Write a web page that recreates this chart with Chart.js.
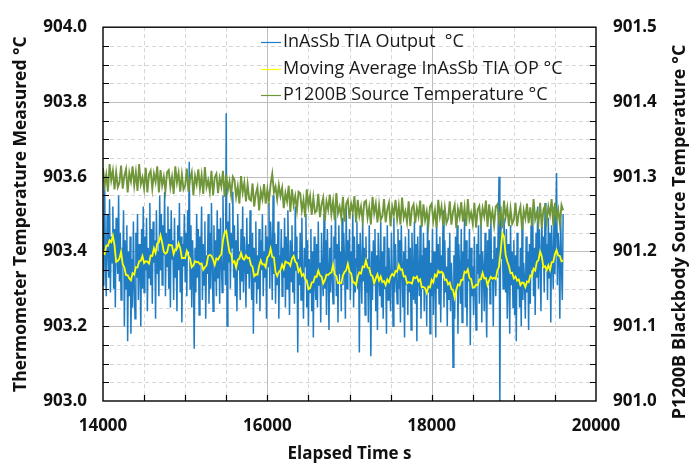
<!DOCTYPE html>
<html>
<head>
<meta charset="utf-8">
<title>InAsSb TIA Output vs P1200B Source Temperature</title>
<script src="https://cdn.jsdelivr.net/npm/chart.js@4.4.1/dist/chart.umd.min.js"></script>
<style>
  html, body { margin: 0; padding: 0; background: #fff; }
  canvas { display: block; }
</style>
</head>
<body>
<canvas id="tiaChart" width="689" height="463"></canvas>
<script>
// Sampling: start time and interval of each logged series (seconds)
const startTime = 14000;
const tiaStep = 10;
const avgStep = 20;
const sourceStep = 20;

// InAsSb TIA output, °C (left axis)
const tiaOutput = [
  903.31, 903.47, 903.58, 903.36, 903.28, 903.50, 903.41, 903.33, 903.54, 903.29,
  903.44, 903.37, 903.52, 903.30, 903.46, 903.25, 903.49, 903.40, 903.34, 903.55,
  903.32, 903.45, 903.27, 903.41, 903.36, 903.51, 903.20, 903.43, 903.30, 903.47,
  903.16, 903.40, 903.28, 903.44, 903.18, 903.38, 903.25, 903.48, 903.31, 903.22,
  903.45, 903.33, 903.50, 903.27, 903.42, 903.37, 903.20, 903.46, 903.30, 903.52,
  903.29, 903.44, 903.35, 903.49, 903.24, 903.41, 903.33, 903.53, 903.31, 903.46,
  903.26, 903.48, 903.37, 903.43, 903.22, 903.51, 903.34, 903.40, 903.28, 903.55,
  903.35, 903.50, 903.31, 903.47, 903.39, 903.56, 903.28, 903.45, 903.36, 903.52,
  903.30, 903.46, 903.25, 903.51, 903.38, 903.43, 903.27, 903.49, 903.33, 903.40,
  903.24, 903.47, 903.35, 903.53, 903.29, 903.44, 903.21, 903.42, 903.36, 903.50,
  903.32, 903.45, 903.28, 903.51, 903.40, 903.64, 903.30, 903.47, 903.25, 903.43,
  903.35, 903.14, 903.41, 903.29, 903.50, 903.33, 903.46, 903.23, 903.44, 903.37,
  903.52, 903.27, 903.42, 903.31, 903.48, 903.22, 903.39, 903.34, 903.50, 903.26,
  903.45, 903.30, 903.53, 903.36, 903.24, 903.47, 903.32, 903.43, 903.28, 903.51,
  903.33, 903.46, 903.26, 903.49, 903.38, 903.29, 903.55, 903.35, 903.44, 903.31,
  903.77, 903.20, 903.48, 903.37, 903.53, 903.30, 903.45, 903.41, 903.56, 903.33,
  903.47, 903.28, 903.43, 903.24, 903.50, 903.35, 903.40, 903.27, 903.46, 903.32,
  903.52, 903.29, 903.44, 903.38, 903.25, 903.49, 903.34, 903.42, 903.30, 903.51,
  903.36, 903.27, 903.45, 903.18, 903.41, 903.32, 903.48, 903.26, 903.39, 903.30,
  903.46, 903.24, 903.43, 903.35, 903.50, 903.28, 903.40, 903.33, 903.47, 903.22,
  903.44, 903.36, 903.53, 903.30, 903.48, 903.41, 903.27, 903.55, 903.34, 903.45,
  903.26, 903.42, 903.31, 903.48, 903.22, 903.39, 903.35, 903.46, 903.28, 903.41,
  903.33, 903.49, 903.25, 903.44, 903.30, 903.51, 903.37, 903.23, 903.43, 903.32,
  903.47, 903.29, 903.40, 903.26, 903.52, 903.35, 903.44, 903.13, 903.38, 903.31,
  903.45, 903.27, 903.49, 903.33, 903.22, 903.41, 903.36, 903.50, 903.25, 903.43,
  903.20, 903.38, 903.29, 903.46, 903.24, 903.40, 903.17, 903.44, 903.32, 903.27,
  903.42, 903.25, 903.48, 903.31, 903.37, 903.21, 903.45, 903.34, 903.28, 903.50,
  903.30, 903.43, 903.23, 903.46, 903.36, 903.19, 903.41, 903.29, 903.47, 903.33,
  903.26, 903.44, 903.38, 903.51, 903.28, 903.42, 903.21, 903.47, 903.34, 903.40,
  903.24, 903.49, 903.31, 903.45, 903.37, 903.22, 903.52, 903.30, 903.43, 903.35,
  903.46, 903.27, 903.40, 903.33, 903.50, 903.25, 903.44, 903.29, 903.38, 903.48,
  903.30, 903.42, 903.13, 903.45, 903.36, 903.26, 903.49, 903.32, 903.41, 903.23,
  903.44, 903.29, 903.38, 903.21, 903.47, 903.34, 903.12, 903.40, 903.27, 903.43,
  903.31, 903.46, 903.24, 903.39, 903.19, 903.45, 903.33, 903.28, 903.48, 903.25,
  903.40, 903.22, 903.44, 903.30, 903.36, 903.18, 903.47, 903.27, 903.41, 903.32,
  903.24, 903.45, 903.35, 903.20, 903.49, 903.29, 903.42, 903.33, 903.26, 903.46,
  903.30, 903.43, 903.21, 903.47, 903.36, 903.25, 903.40, 903.17, 903.44, 903.31,
  903.38, 903.23, 903.46, 903.29, 903.41, 903.19, 903.45, 903.34, 903.27, 903.48,
  903.26, 903.42, 903.16, 903.44, 903.33, 903.28, 903.47, 903.22, 903.39, 903.30,
  903.45, 903.24, 903.41, 903.35, 903.20, 903.50, 903.29, 903.43, 903.18, 903.37,
  903.28, 903.46, 903.23, 903.40, 903.33, 903.17, 903.48, 903.30, 903.42, 903.26,
  903.44, 903.21, 903.39, 903.34, 903.51, 903.25, 903.43, 903.29, 903.36, 903.20,
  903.41, 903.27, 903.45, 903.24, 903.37, 903.31, 903.09, 903.39, 903.22, 903.44,
  903.30, 903.47, 903.18, 903.42, 903.35, 903.26, 903.46, 903.21, 903.40, 903.33,
  903.49, 903.25, 903.43, 903.20, 903.38, 903.32, 903.46, 903.15, 903.41, 903.28,
  903.36, 903.23, 903.44, 903.30, 903.19, 903.42, 903.34, 903.47, 903.26, 903.39,
  903.48, 903.21, 903.40, 903.35, 903.24, 903.45, 903.29, 903.17, 903.43, 903.31,
  903.46, 903.26, 903.50, 903.32, 903.38, 903.20, 903.44, 903.36, 903.28, 903.41,
  903.33, 903.47, 903.60, 902.98, 903.52, 903.38, 903.45, 903.30, 903.49, 903.41,
  903.29, 903.46, 903.22, 903.42, 903.35, 903.18, 903.47, 903.31, 903.40, 903.25,
  903.43, 903.23, 903.39, 903.16, 903.45, 903.30, 903.36, 903.25, 903.41, 903.20,
  903.48, 903.27, 903.37, 903.32, 903.22, 903.44, 903.29, 903.40, 903.19, 903.42,
  903.26, 903.47, 903.35, 903.50, 903.28, 903.41, 903.23, 903.45, 903.33, 903.52,
  903.30, 903.46, 903.38, 903.24, 903.50, 903.36, 903.44, 903.29, 903.53, 903.35,
  903.42, 903.27, 903.49, 903.33, 903.45, 903.21, 903.47, 903.38, 903.30, 903.52,
  903.34, 903.48, 903.61, 903.31, 903.45, 903.40, 903.22, 903.50, 903.36, 903.27,
  903.50
];

// Moving average of the TIA output, °C (left axis)
const movingAvg = [
  903.396, 903.393, 903.416, 903.415, 903.430, 903.425, 903.442, 903.417, 903.372, 903.375,
  903.381, 903.399, 903.366, 903.357, 903.337, 903.337, 903.328, 903.323, 903.342, 903.338,
  903.358, 903.357, 903.374, 903.375, 903.388, 903.369, 903.374, 903.373, 903.368, 903.389,
  903.388, 903.409, 903.396, 903.421, 903.424, 903.443, 903.424, 903.399, 903.394, 903.398,
  903.418, 903.417, 903.416, 903.393, 903.406, 903.407, 903.422, 903.409, 903.382, 903.383,
  903.382, 903.401, 903.388, 903.381, 903.358, 903.363, 903.374, 903.371, 903.372, 903.366,
  903.368, 903.351, 903.358, 903.363, 903.388, 903.391, 903.388, 903.379, 903.364, 903.381,
  903.378, 903.387, 903.392, 903.429, 903.450, 903.455, 903.424, 903.397, 903.392, 903.370,
  903.374, 903.357, 903.378, 903.381, 903.396, 903.381, 903.378, 903.389, 903.382, 903.383,
  903.364, 903.359, 903.334, 903.339, 903.338, 903.361, 903.376, 903.365, 903.366, 903.358,
  903.384, 903.389, 903.408, 903.385, 903.384, 903.345, 903.334, 903.345, 903.350, 903.365,
  903.354, 903.373, 903.370, 903.369, 903.362, 903.381, 903.388, 903.373, 903.368, 903.346,
  903.354, 903.335, 903.340, 903.327, 903.322, 903.299, 903.302, 903.317, 903.318, 903.333,
  903.332, 903.349, 903.336, 903.333, 903.314, 903.323, 903.338, 903.337, 903.342, 903.344,
  903.364, 903.339, 903.334, 903.315, 903.316, 903.315, 903.336, 903.345, 903.350, 903.367,
  903.346, 903.341, 903.318, 903.317, 903.310, 903.333, 903.344, 903.341, 903.360, 903.358,
  903.376, 903.357, 903.356, 903.337, 903.334, 903.315, 903.328, 903.339, 903.322, 903.333,
  903.318, 903.321, 903.310, 903.325, 903.318, 903.333, 903.340, 903.335, 903.348, 903.346,
  903.364, 903.351, 903.352, 903.333, 903.334, 903.315, 903.318, 903.317, 903.314, 903.331,
  903.328, 903.333, 903.320, 903.325, 903.304, 903.305, 903.302, 903.289, 903.306, 903.304,
  903.324, 903.317, 903.338, 903.333, 903.348, 903.343, 903.346, 903.341, 903.324, 903.325,
  903.312, 903.317, 903.300, 903.297, 903.276, 903.297, 903.312, 903.309, 903.324, 903.324,
  903.346, 903.343, 903.352, 903.329, 903.326, 903.303, 903.304, 903.311, 903.310, 903.325,
  903.326, 903.343, 903.328, 903.329, 903.310, 903.323, 903.332, 903.327, 903.330, 903.326,
  903.350, 903.359, 903.400, 903.449, 903.440, 903.391, 903.374, 903.361, 903.342, 903.343,
  903.328, 903.333, 903.322, 903.325, 903.310, 903.317, 903.316, 903.305, 903.320, 903.318,
  903.336, 903.333, 903.354, 903.349, 903.372, 903.377, 903.400, 903.387, 903.358, 903.361,
  903.350, 903.363, 903.350, 903.371, 903.372, 903.393, 903.404, 903.389, 903.388, 903.374,
  903.376
];

// P1200B blackbody source temperature, °C (right axis)
const sourceTemp = [
  901.312, 901.289, 901.303, 901.280, 901.317, 901.295, 901.308, 901.283, 901.306, 901.286,
  901.292, 901.315, 901.284, 901.301, 901.310, 901.279, 901.305, 901.294, 901.314, 901.288,
  901.306, 901.281, 901.317, 901.290, 901.299, 901.284, 901.312, 901.279, 901.303, 901.308,
  901.284, 901.304, 901.293, 901.314, 901.279, 901.309, 901.288, 901.300, 901.281, 901.306,
  901.309, 901.286, 901.300, 901.277, 901.314, 901.292, 901.305, 901.280, 901.303, 901.283,
  901.288, 901.311, 901.280, 901.297, 901.306, 901.275, 901.301, 901.290, 901.310, 901.284,
  901.302, 901.277, 901.313, 901.286, 901.295, 901.280, 901.308, 901.275, 901.299, 901.304,
  901.278, 901.298, 901.287, 901.308, 901.273, 901.303, 901.282, 901.294, 901.275, 901.300,
  901.296, 901.273, 901.287, 901.264, 901.301, 901.279, 901.292, 901.267, 901.290, 901.270,
  901.268, 901.291, 901.260, 901.277, 901.286, 901.255, 901.281, 901.270, 901.290, 901.264,
  901.283, 901.268, 901.290, 901.304, 901.279, 901.287, 901.270, 901.289, 901.274, 901.285,
  901.258, 901.278, 901.267, 901.288, 901.253, 901.283, 901.262, 901.274, 901.255, 901.280,
  901.278, 901.255, 901.269, 901.246, 901.283, 901.261, 901.274, 901.249, 901.272, 901.252,
  901.254, 901.277, 901.246, 901.263, 901.272, 901.241, 901.267, 901.256, 901.276, 901.250,
  901.267, 901.242, 901.278, 901.251, 901.260, 901.245, 901.273, 901.240, 901.264, 901.269,
  901.244, 901.264, 901.253, 901.274, 901.239, 901.269, 901.248, 901.260, 901.241, 901.266,
  901.268, 901.245, 901.259, 901.236, 901.273, 901.251, 901.264, 901.239, 901.262, 901.242,
  901.247, 901.270, 901.239, 901.256, 901.265, 901.234, 901.260, 901.249, 901.269, 901.243,
  901.261, 901.236, 901.272, 901.245, 901.254, 901.239, 901.267, 901.234, 901.258, 901.263,
  901.238, 901.258, 901.247, 901.268, 901.233, 901.263, 901.242, 901.254, 901.235, 901.260,
  901.264, 901.241, 901.255, 901.232, 901.269, 901.247, 901.260, 901.235, 901.258, 901.238,
  901.244, 901.267, 901.236, 901.253, 901.262, 901.231, 901.257, 901.246, 901.266, 901.240,
  901.259, 901.234, 901.270, 901.243, 901.252, 901.237, 901.265, 901.232, 901.256, 901.261,
  901.238, 901.258, 901.247, 901.268, 901.233, 901.263, 901.242, 901.254, 901.235, 901.260,
  901.263, 901.240, 901.254, 901.231, 901.268, 901.246, 901.259, 901.234, 901.257, 901.237,
  901.242, 901.265, 901.234, 901.251, 901.260, 901.229, 901.255, 901.244, 901.264, 901.238,
  901.259, 901.234, 901.270, 901.243, 901.252, 901.237, 901.265, 901.232, 901.256, 901.261,
  901.240, 901.260, 901.249, 901.270, 901.235, 901.265, 901.244, 901.256, 901.237, 901.262,
  901.255
];

// Axis ranges and label steps
const xRange = [14000, 20000];
const leftRange = [903.0, 904.0];
const rightRange = [901.0, 901.5];
const xMajor = 2000, xMinor = 500;
const leftMajor = 0.2, leftMinor = 0.05;
const rightMajor = 0.1;

const seriesNames = [
  'InAsSb TIA Output  °C',
  'Moving Average InAsSb TIA OP °C',
  'P1200B Source Temperature °C'
];
const seriesColors = ['#1f7cc2', '#ffff00', '#70963a'];
const rightTitle = 'P1200B Blackbody Source Temperature °C';

const toPoints = (values, step) => values.map((v, i) => ({ x: startTime + i * step, y: v }));

// Gridlines, frame, inside tick marks, the key and the right-hand title
const framePlugin = {
  id: 'framePlugin',
  beforeDatasetsDraw(chart) {
    const { ctx, chartArea: a, scales: { x, y } } = chart;
    ctx.save();
    ctx.lineWidth = 1;

    // minor dashed grid
    ctx.strokeStyle = '#d6d6d6';
    ctx.setLineDash([4, 3]);
    ctx.beginPath();
    const nx = Math.round((xRange[1] - xRange[0]) / xMinor);
    for (let k = 1; k < nx; k++) {
      if ((k * xMinor) % xMajor === 0) continue;
      const px = Math.round(x.getPixelForValue(xRange[0] + k * xMinor)) + 0.5;
      ctx.moveTo(px, a.top); ctx.lineTo(px, a.bottom);
    }
    const ny = Math.round((leftRange[1] - leftRange[0]) / leftMinor);
    const per = Math.round(leftMajor / leftMinor);
    for (let k = 1; k < ny; k++) {
      if (k % per === 0) continue;
      const py = Math.round(y.getPixelForValue(leftRange[0] + k * leftMinor)) + 0.5;
      ctx.moveTo(a.left, py); ctx.lineTo(a.right, py);
    }
    ctx.stroke();

    // major solid grid
    ctx.setLineDash([]);
    ctx.strokeStyle = '#bdbdbd';
    ctx.beginPath();
    for (let t = xRange[0] + xMajor; t < xRange[1]; t += xMajor) {
      const px = Math.round(x.getPixelForValue(t)) + 0.5;
      ctx.moveTo(px, a.top); ctx.lineTo(px, a.bottom);
    }
    for (let k = per; k < ny; k += per) {
      const py = Math.round(y.getPixelForValue(leftRange[0] + k * leftMinor)) + 0.5;
      ctx.moveTo(a.left, py); ctx.lineTo(a.right, py);
    }
    ctx.stroke();
    ctx.restore();
  },
  afterDatasetsDraw(chart) {
    const { ctx, chartArea: a, scales: { x, y } } = chart;
    ctx.save();
    ctx.strokeStyle = '#000';
    ctx.lineWidth = 1.4;
    ctx.strokeRect(a.left, a.top, a.right - a.left, a.bottom - a.top);

    // inward tick marks
    ctx.lineWidth = 1.2;
    ctx.beginPath();
    const ny = Math.round((leftRange[1] - leftRange[0]) / leftMinor);
    for (let k = 1; k < ny; k++) {
      const py = Math.round(y.getPixelForValue(leftRange[0] + k * leftMinor)) + 0.5;
      ctx.moveTo(a.left, py); ctx.lineTo(a.left + 6, py);
      ctx.moveTo(a.right, py); ctx.lineTo(a.right - 6, py);
    }
    const nx = Math.round((xRange[1] - xRange[0]) / xMinor);
    for (let k = 1; k < nx; k++) {
      const px = Math.round(x.getPixelForValue(xRange[0] + k * xMinor)) + 0.5;
      ctx.moveTo(px, a.bottom); ctx.lineTo(px, a.bottom - 6);
    }
    ctx.stroke();

    // key, no frame
    ctx.font = "18px 'Open Sans', sans-serif";
    ctx.textBaseline = 'middle';
    ctx.fillStyle = '#1a1a1a';
    seriesNames.forEach((name, i) => {
      const ly = 42 + i * 26.5;
      ctx.strokeStyle = seriesColors[i];
      ctx.lineWidth = 1.2;
      ctx.beginPath();
      ctx.moveTo(261, Math.round(ly) + 0.5); ctx.lineTo(281, Math.round(ly) + 0.5);
      ctx.stroke();
      ctx.fillText(name, 283, ly);
    });

    // right axis title reads bottom-to-top
    ctx.translate(680, 232);
    ctx.rotate(-Math.PI / 2);
    ctx.font = "bold 18px 'Open Sans', sans-serif";
    ctx.textAlign = 'center';
    ctx.fillStyle = '#111';
    ctx.fillText(rightTitle, 0, 0);
    ctx.restore();
  }
};

Chart.defaults.font.family = "'Open Sans', sans-serif";
Chart.defaults.color = '#111';

new Chart(document.getElementById('tiaChart'), {
  type: 'scatter',
  data: {
    datasets: [
      {
        label: seriesNames[0],
        data: toPoints(tiaOutput, tiaStep),
        yAxisID: 'y',
        showLine: true,
        borderColor: seriesColors[0],
        borderWidth: 1.5,
        pointRadius: 0,
        order: 3
      },
      {
        label: seriesNames[1],
        data: toPoints(movingAvg, avgStep),
        yAxisID: 'y',
        showLine: true,
        borderColor: seriesColors[1],
        borderWidth: 1.8,
        pointRadius: 0,
        order: 1
      },
      {
        label: seriesNames[2],
        data: toPoints(sourceTemp, sourceStep),
        yAxisID: 'y2',
        showLine: true,
        borderColor: seriesColors[2],
        borderWidth: 1.9,
        pointRadius: 0,
        order: 2
      }
    ]
  },
  options: {
    responsive: false,
    animation: false,
    devicePixelRatio: 1,
    layout: { padding: { top: 20, left: 0, right: 0, bottom: 0 } },
    plugins: { legend: { display: false }, tooltip: { enabled: false } },
    scales: {
      x: {
        type: 'linear',
        min: xRange[0],
        max: xRange[1],
        grid: { display: false, drawTicks: false },
        border: { display: false },
        ticks: {
          stepSize: xMajor,
          padding: 15,
          font: { size: 17, weight: 'bold' },
          callback: v => String(v)
        },
        title: {
          display: true,
          text: 'Elapsed Time s',
          font: { size: 17, weight: 'bold', lineHeight: 1 },
          padding: { top: 0, bottom: 0 }
        },
        afterFit: s => { s.height = 62; }
      },
      y: {
        position: 'left',
        min: leftRange[0],
        max: leftRange[1],
        grid: { display: false, drawTicks: false },
        border: { display: false },
        ticks: {
          stepSize: leftMajor,
          padding: 16,
          font: { size: 17, weight: 'bold' },
          callback: v => v.toFixed(1)
        },
        title: {
          display: true,
          text: 'Thermometer Temperature Measured °C',
          font: { size: 17.5, weight: 'bold' },
          padding: { top: 11, bottom: 0 }
        },
        afterFit: s => { s.width = 103; }
      },
      y2: {
        position: 'right',
        min: rightRange[0],
        max: rightRange[1],
        grid: { display: false, drawTicks: false },
        border: { display: false },
        ticks: {
          stepSize: rightMajor,
          padding: 17,
          font: { size: 17, weight: 'bold' },
          callback: v => v.toFixed(1)
        },
        afterFit: s => { s.width = 93; }
      }
    }
  },
  plugins: [framePlugin]
});
</script>
</body>
</html>
